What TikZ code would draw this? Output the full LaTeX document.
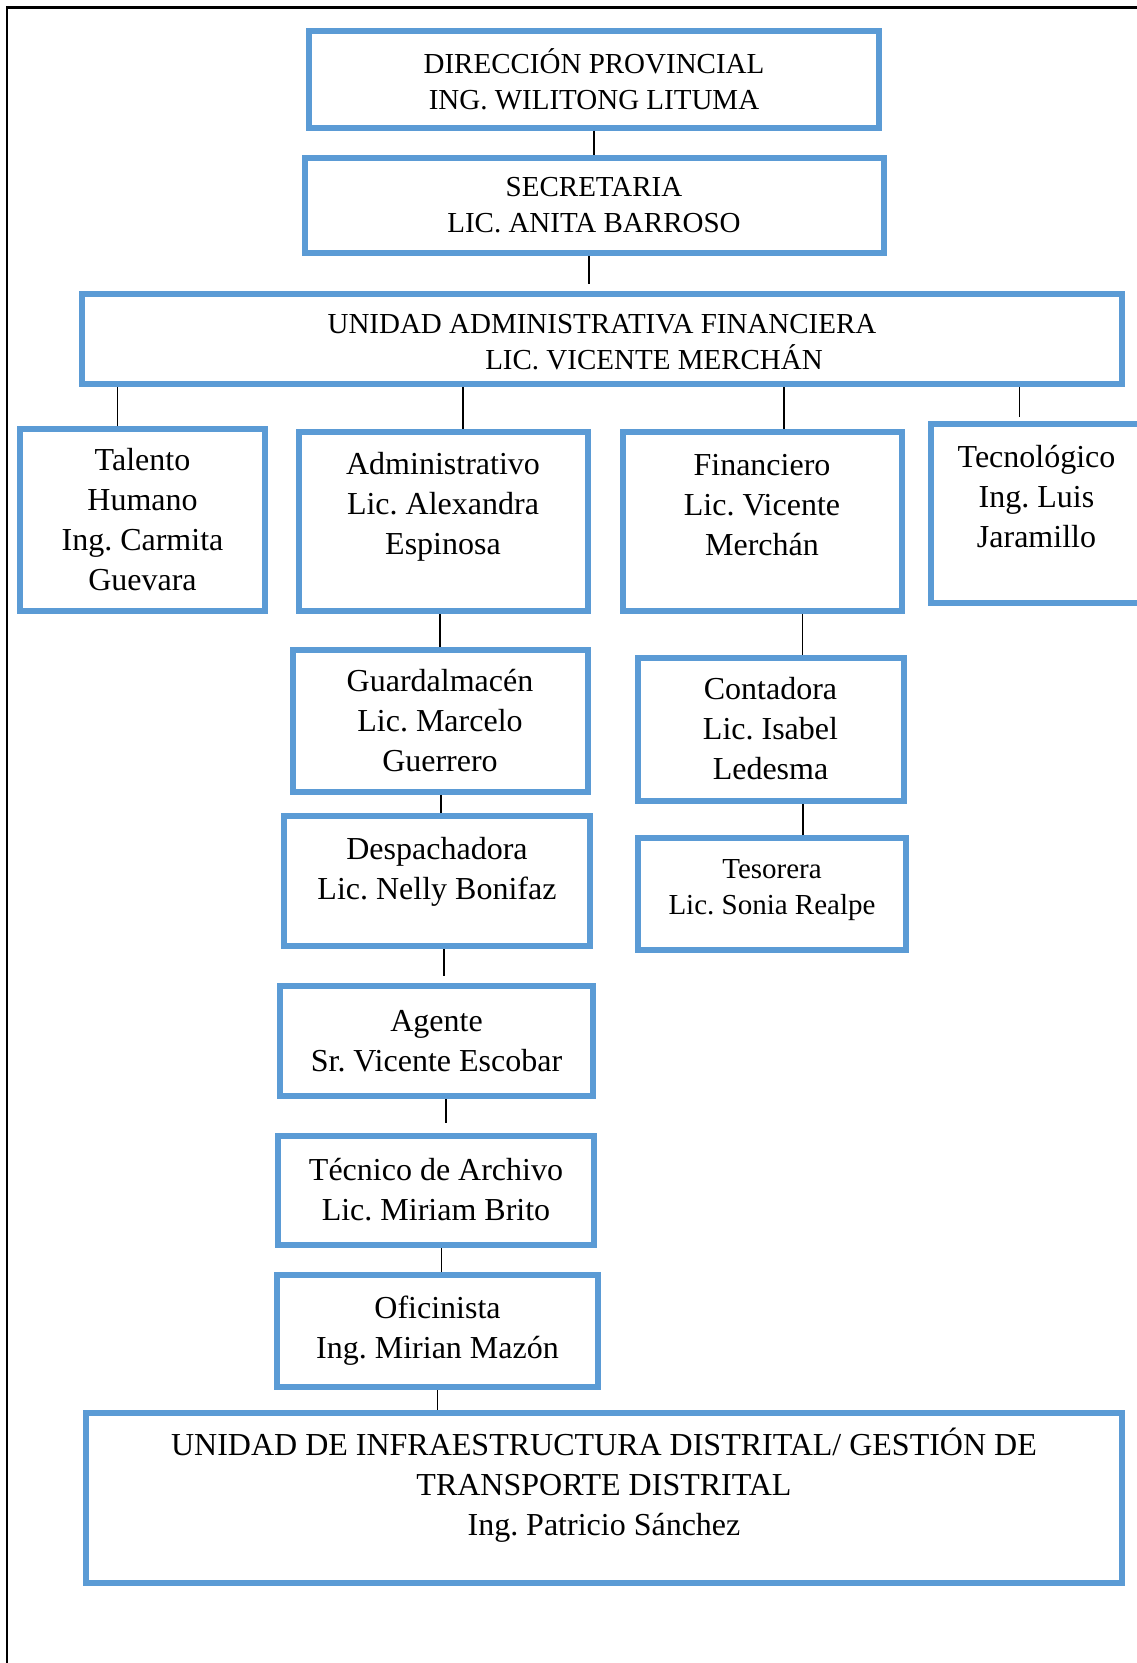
\documentclass[tikz,border=0pt]{standalone}
\usepackage{fontspec}
\setmainfont{Liberation Serif}
\frenchspacing
\definecolor{boxblue}{HTML}{5B9BD5}

\begin{document}
\begin{tikzpicture}[x=1pt,y=-1pt,
  unit/.style={draw=boxblue,line width=6pt,align=center,inner sep=0pt},
  big/.style={font=\fontsize{32}{40}\selectfont},
  small/.style={font=\fontsize{29}{36}\selectfont},
  link/.style={line width=1.6pt}]
\useasboundingbox (0,0) rectangle (1136,1663);
\draw[line width=2.5pt] (7,1700) -- (7,7.5) -- (1160,7.5);

% top of the chart
\node[unit,small,minimum width=570pt,minimum height=97pt] (dir) at (594,79) {DIRECCIÓN PROVINCIAL\\ING. WILITONG LITUMA};
\node[unit,small,minimum width=579pt,minimum height=95pt] (sec) at (594,205) {SECRETARIA\\LIC. ANITA BARROSO};
\node[unit,small,minimum width=1040pt,minimum height=90pt,
  label={[small,align=center,yshift=-3pt]center:{UNIDAD ADMINISTRATIVA FINANCIERA\\\hspace*{104pt}LIC. VICENTE MERCHÁN}}] (uaf) at (602,339) {};

% departments
\node[unit,big,minimum width=245pt,minimum height=182pt] (th) at (142.5,520) {Talento\\Humano\\Ing. Carmita\\Guevara};
\node[unit,minimum width=289pt,minimum height=179pt,
  label={[big,align=center,yshift=14pt]center:{Administrativo\\Lic. Alexandra\\Espinosa}}] (adm) at (443,521) {};
\node[unit,minimum width=279pt,minimum height=179pt,
  label={[big,align=center,yshift=16pt]center:{Financiero\\Lic. Vicente\\Merchán}}] (fin) at (762,521) {};
\node[unit,minimum width=211pt,minimum height=179pt,
  label={[big,align=center,yshift=17pt]center:{Tecnológico\\Ing. Luis\\Jaramillo}}] (tec) at (1036.5,513.5) {};

% administrative branch
\node[unit,big,minimum width=295pt,minimum height=142pt] (gua) at (440,721) {Guardalmacén\\Lic. Marcelo\\Guerrero};
\node[unit,minimum width=306pt,minimum height=130pt,
  label={[big,align=center,yshift=9pt]center:{Despachadora\\Lic. Nelly Bonifaz}}] (des) at (437,881) {};
\node[unit,big,minimum width=313pt,minimum height=110pt] (age) at (436.5,1041) {Agente\\Sr. Vicente Escobar};
\node[unit,big,minimum width=316pt,minimum height=109pt] (tar) at (436,1190) {Técnico de Archivo\\Lic. Miriam Brito};
\node[unit,big,minimum width=321pt,minimum height=112pt] (ofi) at (437.5,1331) {Oficinista\\Ing. Mirian Mazón};

% financial branch
\node[unit,big,minimum width=266pt,minimum height=143pt] (con) at (770.5,729) {Contadora\\Lic. Isabel\\Ledesma};
\node[unit,minimum width=268pt,minimum height=112pt,
  label={[small,align=center,yshift=4pt]center:{Tesorera\\Lic. Sonia Realpe}}] (tes) at (772,894) {};

% bottom unit
\node[unit,minimum width=1036pt,minimum height=170pt,
  label={[big,align=center,yshift=13pt]center:{UNIDAD DE INFRAESTRUCTURA DISTRITAL/ GESTIÓN DE\\TRANSPORTE DISTRITAL\\Ing. Patricio Sánchez}}] (inf) at (604,1498) {};

% connectors
\draw[link] (dir.south) -- (sec.north);
\draw[link,shorten >=7pt] ([xshift=-5pt]sec.south) -- ([xshift=-5pt]sec.south |- uaf.north);
\draw[link] ([xshift=-25pt]th.north) -- ([xshift=-25pt]th.north |- uaf.south);
\draw[link] ([xshift=20pt]adm.north) -- ([xshift=20pt]adm.north |- uaf.south);
\draw[link] ([xshift=22pt]fin.north) -- ([xshift=22pt]fin.north |- uaf.south);
\draw[link,shorten <=4pt] ([xshift=-17pt]tec.north) -- ([xshift=-17pt]tec.north |- uaf.south);
\draw[link] (gua.north) -- (gua.north |- adm.south);
\draw[link] ([xshift=4pt]des.north) -- ([xshift=4pt]des.north |- gua.south);
\draw[link,shorten >=7pt] ([xshift=7pt]des.south) -- ([xshift=7pt]des.south |- age.north);
\draw[link,shorten >=10pt] ([xshift=9.5pt]age.south) -- ([xshift=9.5pt]age.south |- tar.north);
\draw[link] ([xshift=4pt]ofi.north) -- ([xshift=4pt]ofi.north |- tar.south);
\draw[link] (ofi.south) -- (ofi.south |- inf.north);
\draw[link] ([xshift=32pt]con.north) -- ([xshift=32pt]con.north |- fin.south);
\draw[link] ([xshift=31pt]tes.north) -- ([xshift=31pt]tes.north |- con.south);
\end{tikzpicture}
\end{document}
